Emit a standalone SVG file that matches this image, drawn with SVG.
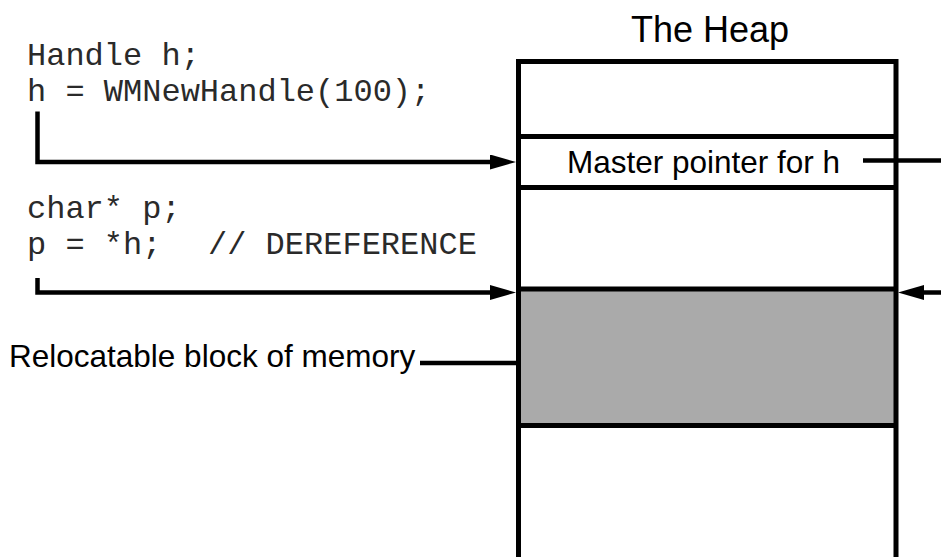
<svg xmlns="http://www.w3.org/2000/svg" width="941" height="557" viewBox="0 0 941 557">
  <style>
    .code { font-family: "Liberation Mono", "Courier New", monospace; font-size: 32px; fill: #2a2a2a; }
    .label { font-family: "Liberation Sans", Arial, sans-serif; font-size: 31.5px; fill: #000; }
    .title { font-family: "Liberation Sans", Arial, sans-serif; font-size: 36px; fill: #000; }
    .edge { fill: none; stroke: #000; stroke-width: 5; }
    .wire { fill: none; stroke: #000; stroke-width: 4.5; }
  </style>
  <defs>
    <marker id="arrow" markerUnits="userSpaceOnUse" viewBox="0 0 26 15" refX="16" refY="7.5" markerWidth="26" markerHeight="15" orient="auto">
      <path d="M0,0 L26,7.5 L0,15 Z" fill="#000"/>
    </marker>
  </defs>

  <rect width="941" height="557" fill="#fff"/>

  <!-- code listing -->
  <g id="code">
    <text class="code" x="27" y="65" xml:space="preserve">Handle h;</text>
    <text class="code" x="27" y="101" xml:space="preserve">h = WMNewHandle(100);</text>
    <text class="code" x="27" y="218" xml:space="preserve">char* p;</text>
    <text class="code" x="27" y="254" xml:space="preserve">p = *h;  <tspan x="208">// DEREFERENCE</tspan></text>
  </g>

  <!-- heap column -->
  <g id="heap">
    <text class="title" x="710" y="41.5" text-anchor="middle">The Heap</text>
    <rect x="518.5" y="289" width="377.5" height="136.5" fill="#aaaaaa"/>
    <path class="edge" d="M518.5,560 V61.5 H896 V560"/>
    <line class="edge" x1="518.5" y1="136.5" x2="896" y2="136.5"/>
    <line class="edge" x1="518.5" y1="187.5" x2="896" y2="187.5"/>
    <line class="edge" x1="518.5" y1="289" x2="896" y2="289"/>
    <line class="edge" x1="518.5" y1="425.5" x2="896" y2="425.5"/>
  </g>

  <g id="master-pointer">
    <text class="label" x="567" y="173">Master pointer for h</text>
  </g>

  <g id="relocatable-block">
    <text class="label" x="9" y="367">Relocatable block of memory</text>
  </g>

  <!-- connectors -->
  <g id="connectors">
    <path class="wire" d="M37.5,111.5 V162 H506" marker-end="url(#arrow)"/>
    <path class="wire" d="M37.5,278 V292.5 H506" marker-end="url(#arrow)"/>
    <line class="wire" x1="863" y1="160.5" x2="945" y2="160.5"/>
    <line class="wire" x1="945" y1="292.5" x2="908" y2="292.5" marker-end="url(#arrow)"/>
    <line class="wire" x1="420" y1="363" x2="518" y2="363"/>
  </g>
</svg>
